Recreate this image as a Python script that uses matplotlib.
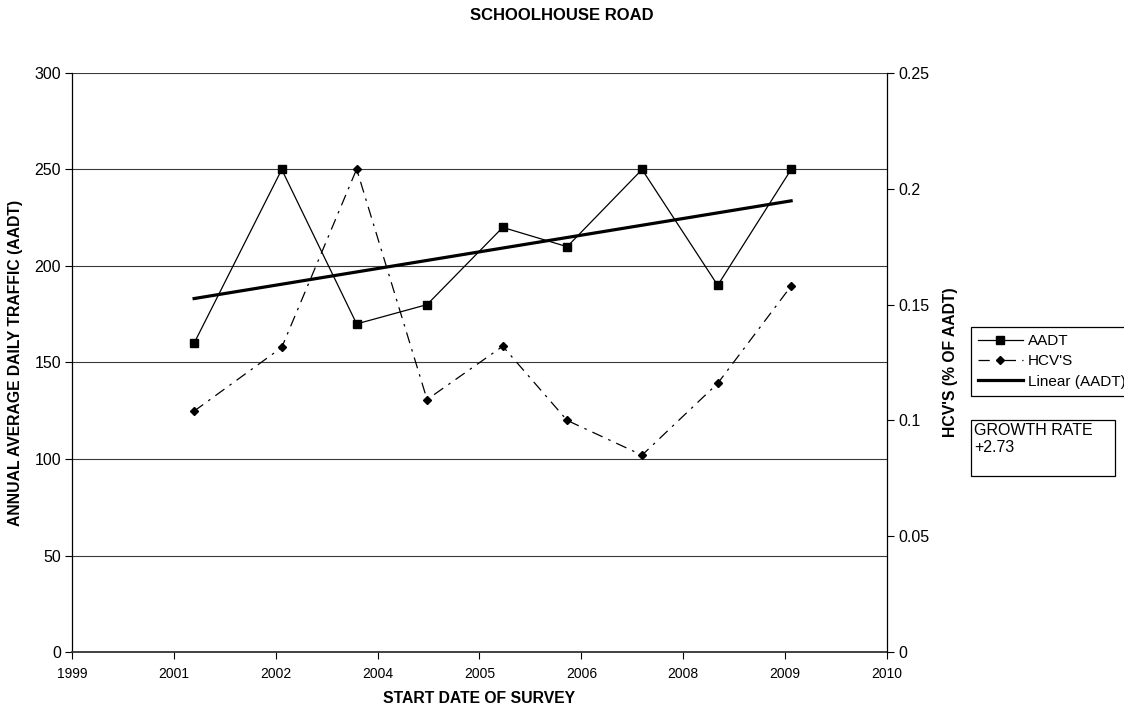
import numpy as np
import matplotlib
matplotlib.use("Agg")
import matplotlib.pyplot as plt
from matplotlib.patches import Rectangle

plt.rcParams['font.family'] = ['Liberation Sans', 'DejaVu Sans']

# ---- data ----
survey_dates = [2001.58, 2002.75, 2003.75, 2004.69, 2005.70, 2006.56, 2007.56, 2008.57, 2009.55]
aadt = [160, 250, 170, 180, 220, 210, 250, 190, 250]
hcv = [0.104, 0.1315, 0.2085, 0.109, 0.132, 0.100, 0.085, 0.116, 0.158]
x_min, x_max = 1999.95, 2010.83
x_tick_labels = ['1999', '2001', '2002', '2004', '2005', '2006', '2008', '2009', '2010']
left_ticks = [0, 50, 100, 150, 200, 250, 300]
right_ticks = [0, 0.05, 0.1, 0.15, 0.2, 0.25]
right_tick_labels = ['0', '0.05', '0.1', '0.15', '0.2', '0.25']
growth_text = "GROWTH RATE\n+2.73"
title = "SCHOOLHOUSE ROAD"

fig = plt.figure(figsize=(11.24, 7.08), dpi=100)
ax = fig.add_axes([72/1124, 1-652/708, (887-72)/1124, (652-73)/708])
ax2 = ax.twinx()

# grid
for v in left_ticks[1:]:
    ax.axhline(v, color='#3a3a3a', lw=0.8, zorder=0)

# series
l1, = ax.plot(survey_dates, aadt, color='black', lw=0.9, marker='s', ms=5.5,
              label='AADT', zorder=3)
l2, = ax2.plot(survey_dates, hcv, color='black', lw=0.9, marker='D', ms=4.5,
               linestyle=(0, (9, 5, 2, 5)), label="HCV'S", zorder=3)
coef = np.polyfit(survey_dates, aadt, 1)
xs = np.array([survey_dates[0], survey_dates[-1]])
l3, = ax.plot(xs, np.polyval(coef, xs), color='black', lw=2.3, label='Linear (AADT)', zorder=4)

ax.set_xlim(x_min, x_max)
ax.set_ylim(0, 300)
ax2.set_ylim(0, 0.25)
ax.set_xticks(np.linspace(x_min, x_max, len(x_tick_labels)))
ax.set_xticklabels(x_tick_labels)
ax.set_yticks(left_ticks)
ax2.set_yticks(right_ticks)
ax2.set_yticklabels(right_tick_labels)

for a in (ax, ax2):
    a.spines['top'].set_visible(False)
    a.tick_params(length=5, width=0.8, color='black', direction='out')
    a.patch.set_visible(False)
ax.tick_params(axis='x', labelsize=10, pad=6)
ax.tick_params(axis='y', labelsize=11.5, pad=3)
ax2.tick_params(axis='y', labelsize=11.5, pad=3)
ax2.spines['left'].set_visible(False)
ax.spines['right'].set_visible(False)
ax2.spines['bottom'].set_visible(False)
ax.spines['left'].set_linewidth(0.9)
ax2.spines['right'].set_linewidth(0.9)
ax.spines['bottom'].set_linewidth(1.3)
ax.spines['bottom'].set_color('#333333')

ax.set_xlabel('START DATE OF SURVEY', fontsize=11.3, fontweight='bold', labelpad=7)
ax.set_ylabel('ANNUAL AVERAGE DAILY TRAFFIC (AADT)', fontsize=11.3, fontweight='bold', labelpad=8)
ax2.set_ylabel("HCV'S (% OF AADT)", fontsize=11.3, fontweight='bold', labelpad=10)

fig.text(0.5, 1-16/708, title, ha='center', va='center', fontsize=12, fontweight='bold')

# legend
leg = fig.legend(handles=[l1, l2, l3], loc='upper left',
                 bbox_to_anchor=(971/1124, 1-327/708), fontsize=11,
                 frameon=True, fancybox=False, edgecolor='black', framealpha=1,
                 handlelength=2.95, handletextpad=0.3, borderpad=0.45,
                 labelspacing=0.42, borderaxespad=0)
leg.get_frame().set_linewidth(0.9)

# growth rate box
fig.patches.append(Rectangle((971/1124, 1-476/708), (1115-971)/1124, (476-420)/708,
                             transform=fig.transFigure, fill=False, edgecolor='black', lw=0.9))
fig.text(974/1124, 1-423/708, growth_text, ha='left', va='top', fontsize=11.5, linespacing=1.2)

fig.savefig('out.png', dpi=100)
